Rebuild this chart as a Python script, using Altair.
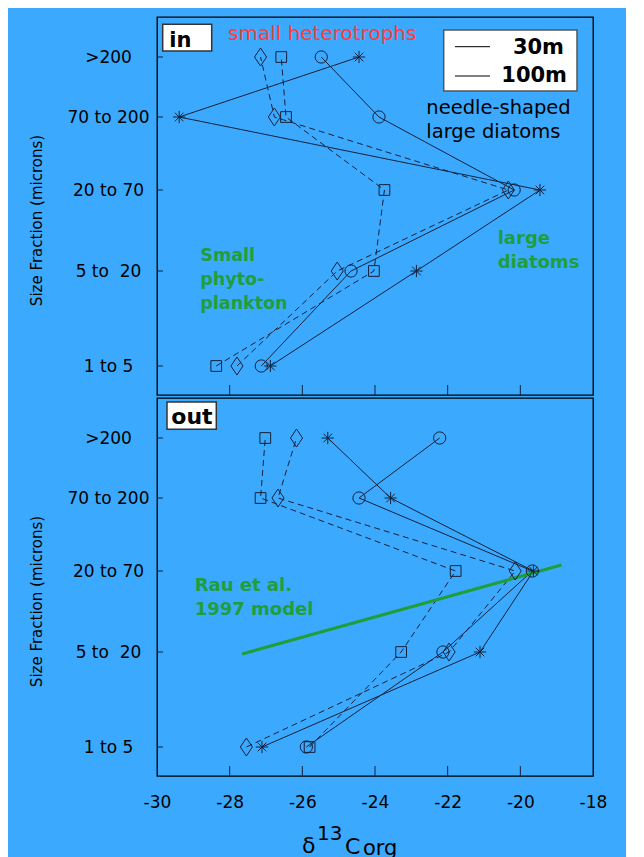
import altair as alt
import pandas as pd

# ---------------- data ----------------
sizes = ["1 to 5", "5 to \u00a020", "20 to 70", "70 to 200", ">200"]
size_pos = [0.0, 0.95, 1.76, 2.49, 3.09]
series = ["star", "circle", "square", "diamond"]

in_star = [-26.88, -22.86, -19.46, -29.39, -24.44]
in_circle = [-27.13, -24.66, -20.17, -23.89, -25.48]
in_square = [-28.37, -24.03, -23.74, -26.45, -26.58]
in_diamond = [-27.80, -25.04, -20.33, -26.77, -27.15]

out_star = [-27.11, -21.11, -19.64, -23.57, -25.30]
out_circle = [-25.89, -22.13, -19.67, -24.44, -22.22]
out_square = [-25.80, -23.28, -21.78, -27.15, -27.02]
out_diamond = [-27.54, -21.96, -20.14, -26.67, -26.16]

model_x = [-27.66, -18.87]
model_pos = [0.93, 1.82]

x_ticks = [-28, -26, -24, -22, -20]
x_label_values = [-30, -28, -26, -24, -22, -20, -18]

# ---------------- styles ----------------
BG = "#3BAAFE"
INK = "#15203a"
GREEN = "#1F9E3A"
RED = "#FF3B3B"
FONT = "DejaVu Sans"
W, H = 436, 378

STAR = "M-1,0L1,0M0,-1L0,1M-0.7,-0.7L0.7,0.7M-0.7,0.7L0.7,-0.7"
DIAMOND = "M0,-1L0.67,0L0,1L-0.67,0Z"
style = {
    "star": dict(shape=STAR, size=150, dash=None),
    "circle": dict(shape="circle", size=150, dash=None),
    "square": dict(shape="square", size=115, dash=[6, 4]),
    "diamond": dict(shape=DIAMOND, size=324, dash=[6, 4]),
}

label_expr = ""
for s, p in zip(sizes[:-1], size_pos[:-1]):
    label_expr += f"datum.value < {p + 0.2} ? '{s}' : "
label_expr += f"'{sizes[-1]}'"

xscale = alt.Scale(domain=[-30, -18], nice=False, zero=False)
yscale = alt.Scale(domain=[-0.29, 3.49], nice=False, zero=False)

one = pd.DataFrame({"k": [0]})


def txt(text, x, y, size, color="black", weight="normal", align="left",
        baseline="alphabetic", line_height=None):
    kw = dict(font=FONT, fontSize=size, color=color, fontWeight=weight,
              align=align, baseline=baseline)
    if line_height:
        kw["lineHeight"] = line_height
    return alt.Chart(one).mark_text(**kw).encode(
        x=alt.value(x), y=alt.value(y), text=alt.value(text))


def box(x1, x2, y1, y2, stroke="#333333", sw=1.5):
    return alt.Chart(one).mark_rect(fill="white", stroke=stroke, strokeWidth=sw).encode(
        x=alt.value(x1), x2=alt.value(x2), y=alt.value(y1), y2=alt.value(y2))


def panel(vals, bottom):
    rows = []
    for name, v in zip(series, vals):
        for s, p, d in zip(sizes, size_pos, v):
            rows.append({"series": name, "size": s, "pos": p, "d13c": d})
    df = pd.DataFrame(rows)

    if bottom:
        xaxis = alt.Axis(values=x_label_values,
                         labelExpr="datum.value < 0 ? '-' + abs(datum.value) : '' + datum.value",
                         ticks=False, tickSize=0, domain=False, grid=False, title=None,
                         labelFlush=False, labelFont=FONT, labelFontSize=17,
                         labelColor="black", labelPadding=18)
    else:
        xaxis = alt.Axis(labels=False, ticks=False, tickSize=0, domain=False, grid=False, title=None)

    yaxis = alt.Axis(values=size_pos, labelExpr=label_expr, ticks=False, tickSize=0,
                     domain=False, grid=False, labelAlign="center", labelBaseline="middle",
                     labelFlush=False, labelPadding=49, labelFont=FONT, labelFontSize=17,
                     labelColor="black",
                     title="Size Fraction (microns)", titleFont=FONT, titleFontSize=15,
                     titleFontWeight="normal", titleColor="black", titleX=-121, titleY=203,
                     titleAngle=270, titleAlign="center", titleBaseline="middle")

    X = alt.X("d13c:Q", scale=xscale, axis=xaxis)
    Y = alt.Y("pos:Q", scale=yscale, axis=yaxis)

    layers = []
    for name in series:
        st = style[name]
        sub = df[df["series"] == name]
        lk = dict(color=INK, strokeWidth=1)
        if st["dash"]:
            lk["strokeDash"] = st["dash"]
        layers.append(alt.Chart(sub).mark_line(**lk).encode(x=X, y=Y, order="pos:Q"))

    if bottom:
        mdf = pd.DataFrame({"d13c": model_x, "pos": model_pos})
        layers.append(alt.Chart(mdf).mark_line(color=GREEN, strokeWidth=3).encode(x=X, y=Y))

    for name in series:
        st = style[name]
        sub = df[df["series"] == name]
        layers.append(alt.Chart(sub).mark_point(filled=False, color=INK, strokeWidth=1, opacity=1,
                                                shape=st["shape"], size=st["size"]).encode(x=X, y=Y))

    # inward ticks
    tdf = pd.DataFrame({"d13c": x_ticks})
    layers.append(alt.Chart(tdf).mark_rule(color=INK, strokeWidth=1).encode(
        x=alt.X("d13c:Q", scale=xscale), y=alt.value(H), y2=alt.value(H - 10)))
    ydf = pd.DataFrame({"pos": size_pos})
    layers.append(alt.Chart(ydf).mark_rule(color=INK, strokeWidth=1).encode(
        y=alt.Y("pos:Q", scale=yscale), x=alt.value(0), x2=alt.value(6)))

    if not bottom:
        layers += [
            box(5.7, 54.7, 7.3, 34),
            txt("in", 12.3, 29.7, 21, weight="bold"),
            txt("small heterotrophs", 71, 23.3, 20, color=RED),
            box(286.7, 420, 13, 74, stroke="#555555"),
            alt.Chart(one).mark_rule(color="black", strokeWidth=1).encode(
                x=alt.value(298), x2=alt.value(333), y=alt.value(29.7)),
            alt.Chart(one).mark_rule(color="black", strokeWidth=1).encode(
                x=alt.value(298), x2=alt.value(333), y=alt.value(59)),
            txt("30m", 407, 37.3, 21, weight="bold", align="right"),
            txt("100m", 410, 64.7, 21, weight="bold", align="right"),
            txt(["needle-shaped", "large diatoms"], 269.3, 96.7, 19.5, line_height=24),
            txt(["large", "diatoms"], 340.7, 227.3, 18, color=GREEN, weight="bold", line_height=23.5),
            txt(["Small", "phyto-", "plankton"], 43.3, 244, 17.5, color=GREEN, weight="bold", line_height=24),
        ]
    else:
        layers += [
            box(10, 59.3, 4, 31.3),
            txt("out", 14.3, 25.7, 22, weight="bold"),
            txt(["Rau et al.", "1997 model"], 37.7, 193.3, 18, color=GREEN, weight="bold", line_height=24),
            txt("\u03b4", 145, 455, 22),
            txt("13", 160, 442, 20),
            txt("C", 188, 455.5, 22),
            txt("org", 206, 457, 21),
        ]

    return alt.layer(*layers).properties(width=W, height=H)


top = panel([in_star, in_circle, in_square, in_diamond], False)
bot = panel([out_star, out_circle, out_square, out_diamond], True)

chart = alt.vconcat(top, bot, spacing=0).properties(
    padding={"left": 20, "top": 8, "right": 18, "bottom": 0},
    background=BG,
).configure_view(stroke="black", strokeWidth=1.3, fill=None)

chart.save("out.html", embed_options={"renderer": "svg", "actions": False})
